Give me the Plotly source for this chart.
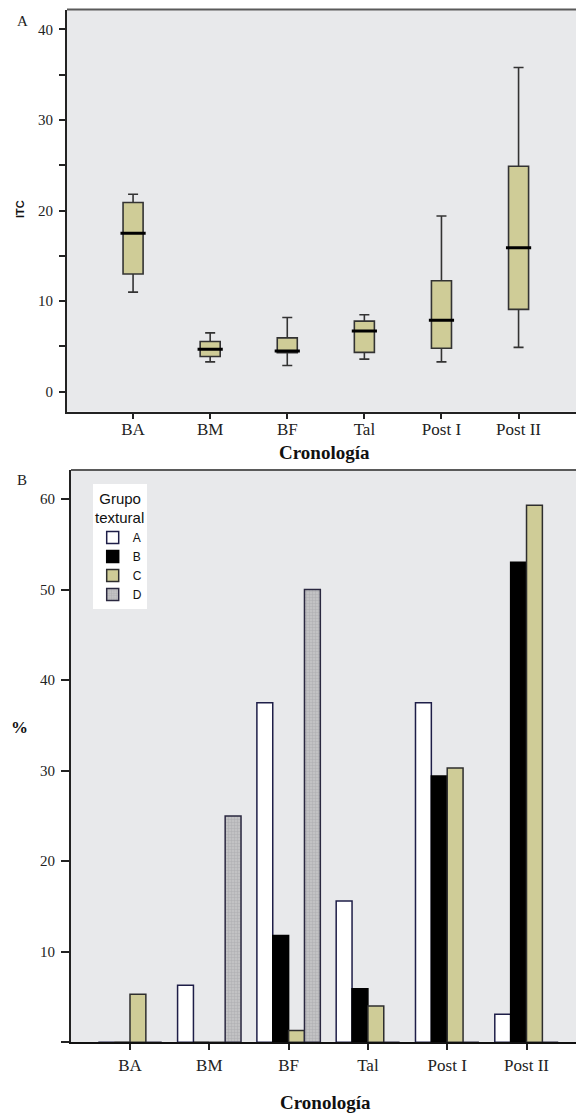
import plotly.graph_objects as go

# Chronological periods
cats = ["BA", "BM", "BF", "Tal", "Post I", "Post II"]

# ITC box-plot summaries per period
itc_low = [11.0, 3.3, 2.9, 3.6, 3.3, 4.9]
itc_q1 = [13.0, 3.9, 4.3, 4.35, 4.8, 9.1]
itc_med = [17.5, 4.7, 4.5, 6.7, 7.9, 15.9]
itc_q3 = [20.9, 5.55, 5.95, 7.8, 12.25, 24.9]
itc_high = [21.8, 6.5, 8.2, 8.5, 19.4, 35.8]

# Textural group percentages per period
groups = ["A", "B", "C", "D"]
pct_A = [0.0, 6.3, 37.5, 15.6, 37.5, 3.1]
pct_B = [0.0, 0.0, 11.8, 5.9, 29.4, 53.0]
pct_C = [5.3, 0.0, 1.3, 4.0, 30.3, 59.3]
pct_D = [0.0, 25.0, 50.0, 0.0, 0.0, 0.0]
pct = {"A": pct_A, "B": pct_B, "C": pct_C, "D": pct_D}

W, H = 576, 1114
SERIF = "Liberation Serif"
SANS = "Liberation Sans"
KHAKI = "#cfcc97"
BG = "#e8e9eb"


def px_x(p):
    return p / W


def px_y(p):
    return 1 - p / H


fig = go.Figure()

fig.add_trace(go.Box(
    x=cats, q1=itc_q1, median=itc_med, q3=itc_q3,
    lowerfence=itc_low, upperfence=itc_high,
    width=0.26, whiskerwidth=0.5,
    fillcolor=KHAKI, line=dict(color="#333333", width=1.6),
    xaxis="x", yaxis="y", showlegend=False, hoverinfo="skip",
))
# heavier median bars
fig.add_trace(go.Scatter(
    x=cats, y=itc_med, mode="markers",
    marker=dict(symbol="line-ew", size=18, line=dict(color="#000000", width=3)),
    xaxis="x", yaxis="y", showlegend=False, hoverinfo="skip",
))

bar_styles = {
    "A": dict(color="#ffffff", line=dict(color="#1e1e48", width=1.5)),
    "B": dict(color="#000000", line=dict(color="#000000", width=1.5)),
    "C": dict(color=KHAKI, line=dict(color="#2e2e2e", width=1.5)),
    "D": dict(color="#bdbdc0", line=dict(color="#2a2840", width=1.5),
              pattern=dict(shape="+", size=3, solidity=0.3,
                           fgcolor="#98989c", bgcolor="#c2c2c4")),
}
for g in groups:
    fig.add_trace(go.Bar(
        x=cats, y=pct[g], name=g, marker=bar_styles[g],
        xaxis="x2", yaxis="y2", hoverinfo="skip",
    ))

ytick_font = dict(family=SERIF, size=15, color="#222222")
xtick_font = dict(family=SERIF, size=17, color="#222222")

# top panel plot area: x 67..576, y 9.5..411.7 px
# bottom panel plot area: x 71..576, y 470..1042.3 px
fig.update_layout(
    width=W, height=H,
    margin=dict(l=0, r=0, t=0, b=0),
    paper_bgcolor="#ffffff",
    plot_bgcolor=BG,
    barmode="group", bargap=0.2, bargroupgap=0.0,
    xaxis=dict(
        domain=[px_x(67), 1], anchor="y", type="category",
        range=[-0.857, 5.745],
        showline=True, linecolor="#222222", linewidth=2,
        ticks="outside", ticklen=5, tickwidth=1.5, tickcolor="#222222",
        ticklabelstandoff=-4,
        tickfont=xtick_font, showgrid=False, zeroline=False,
    ),
    yaxis=dict(
        domain=[px_y(411.7), px_y(9.5)], anchor="x",
        range=[-2.2, 42.2],
        tickvals=[0, 10, 20, 30, 40],
        showline=True, linecolor="#222222", linewidth=2,
        ticks="outside", ticklen=6, tickwidth=1.5, tickcolor="#222222",
        minor=dict(tickvals=[5, 15, 25, 35], ticks="outside", ticklen=6,
                   tickwidth=1.5, tickcolor="#222222"),
        ticklabelstandoff=3,
        tickfont=ytick_font, showgrid=False, zeroline=False,
    ),
    xaxis2=dict(
        domain=[px_x(71), 1], anchor="y2", type="category",
        range=[-0.744, 5.624],
        showline=True, linecolor="#111111", linewidth=2,
        ticks="outside", ticklen=6, tickwidth=1.5, tickcolor="#222222",
        tickfont=xtick_font, showgrid=False, zeroline=False,
    ),
    yaxis2=dict(
        domain=[px_y(1042.3), px_y(470)], anchor="x2",
        range=[0, 63.2],
        tickvals=[0, 10, 20, 30, 40, 50, 60],
        ticktext=["", "10", "20", "30", "40", "50", "60"],
        showline=True, linecolor="#222222", linewidth=2,
        ticks="outside", ticklen=8, tickwidth=1.5, tickcolor="#222222",
        ticklabelstandoff=3,
        tickfont=ytick_font, showgrid=False, zeroline=False,
    ),
    legend=dict(
        x=px_x(92.7), y=px_y(484), xanchor="left", yanchor="top",
        bgcolor="#ffffff", borderwidth=0,
        font=dict(family=SANS, size=12, color="#111111"),
        title=dict(text="&nbsp;Grupo<br>textural", side="top center",
                   font=dict(family=SANS, size=15, color="#111111")),
        itemwidth=30, tracegroupgap=0,
    ),
    shapes=[
        dict(type="line", xref="paper", yref="paper",
             x0=px_x(67), x1=1, y0=px_y(9.5), y1=px_y(9.5),
             line=dict(color="#5a5a5a", width=2)),
        dict(type="line", xref="paper", yref="paper",
             x0=px_x(71), x1=1, y0=px_y(470), y1=px_y(470),
             line=dict(color="#5a5a5a", width=2)),
    ],
)

ann = [
    dict(text="A", x=22, y=21, font=dict(family=SERIF, size=15, color="#222222")),
    dict(text="B", x=22, y=480, font=dict(family=SERIF, size=15, color="#222222")),
    dict(text="<b>ITC</b>", x=20, y=209, textangle=-90,
         font=dict(family=SANS, size=11, color="#111111")),
    dict(text="<b>%</b>", x=19, y=727, font=dict(family=SERIF, size=17, color="#111111")),
    dict(text="<b>Cronología</b>", x=324, y=453,
         font=dict(family=SERIF, size=19, color="#111111")),
    dict(text="<b>Cronología</b>", x=325, y=1102,
         font=dict(family=SERIF, size=19, color="#111111")),
]
for a in ann:
    fig.add_annotation(
        text=a["text"], x=px_x(a["x"]), y=px_y(a["y"]),
        xref="paper", yref="paper", xanchor="center", yanchor="middle",
        showarrow=False, font=a["font"], textangle=a.get("textangle", 0),
    )

fig.write_html("out.html")
